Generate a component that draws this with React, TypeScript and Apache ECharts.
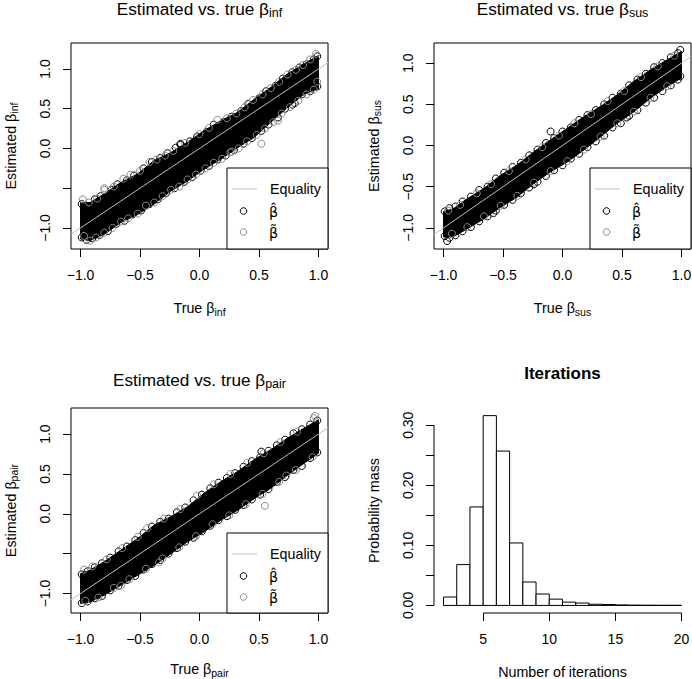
import React, { useEffect, useRef } from "react";
import * as echarts from "echarts";

const FONT = "'Liberation Sans', Arial, Helvetica, sans-serif";
const LINE_GRAY = "#bebebe";
const PT_GRAY = "#8a8a8a";

// ---------- data ----------
const bandX = [-1, -0.92, -0.8, -0.66, -0.52, -0.38, -0.24, -0.1, 0.04, 0.18, 0.32, 0.46, 0.6, 0.74, 0.88, 1.0];

// beta_inf panel: dense core of the point cloud (upper / lower envelope)
const infBandUpper = [-0.68, -0.68, -0.57, -0.425, -0.32, -0.15, -0.05, 0.08, 0.225, 0.35, 0.455, 0.62, 0.77, 0.94, 1.065, 1.17];
const infBandLower = [-1.14, -1.16, -1.08, -0.93, -0.83, -0.7, -0.535, -0.41, -0.26, -0.135, 0.01, 0.14, 0.33, 0.515, 0.685, 0.75];
const infHatPts = [
  [-0.99, -0.7], [-0.95, -0.72], [-0.88, -0.64], [-0.83, -0.6], [-0.74, -0.52], [-0.69, -0.45], [-0.61, -0.4], [-0.55, -0.34],
  [-0.47, -0.25], [-0.4, -0.17], [-0.33, -0.12], [-0.27, -0.06], [-0.2, 0.01], [-0.16, 0.045], [-0.08, 0.09], [-0.02, 0.15],
  [0.06, 0.21], [0.12, 0.3], [0.2, 0.33], [0.27, 0.4], [0.35, 0.47], [0.41, 0.56], [0.5, 0.63], [0.56, 0.72], [0.64, 0.79],
  [0.7, 0.88], [0.78, 0.96], [0.84, 1.02], [0.9, 1.06], [0.96, 1.12], [0.99, 1.16],
  [-0.99, -1.12], [-0.95, -1.15], [-0.9, -1.13], [-0.84, -1.09], [-0.77, -1.04], [-0.7, -0.95], [-0.63, -0.91], [-0.56, -0.83],
  [-0.49, -0.78], [-0.42, -0.7], [-0.35, -0.64], [-0.28, -0.56], [-0.21, -0.5], [-0.13, -0.42], [-0.06, -0.36], [0.01, -0.28],
  [0.08, -0.22], [0.15, -0.14], [0.22, -0.09], [0.29, -0.02], [0.37, 0.06], [0.44, 0.13], [0.52, 0.22], [0.58, 0.3],
  [0.66, 0.39], [0.72, 0.5], [0.8, 0.57], [0.86, 0.68], [0.93, 0.72], [0.99, 0.78],
  [0.78, 0.55], [-0.16, 0.06]
];
const infTildePts = [
  [-0.98, -0.64], [-0.93, -0.68], [-0.86, -0.63], [-0.8, -0.52], [-0.72, -0.48], [-0.64, -0.38], [-0.58, -0.33], [-0.5, -0.28],
  [-0.42, -0.17], [-0.36, -0.14], [-0.29, -0.09], [-0.22, -0.03], [-0.12, 0.07], [0.0, 0.18], [0.08, 0.26], [0.15, 0.36],
  [0.23, 0.38], [0.31, 0.44], [0.38, 0.52], [0.45, 0.61], [0.53, 0.68], [0.6, 0.76], [0.67, 0.84], [0.74, 0.93], [0.81, 0.99],
  [0.87, 1.05], [0.93, 1.12], [0.98, 1.19],
  [-0.97, -1.1], [-0.92, -1.16], [-0.87, -1.12], [-0.8, -1.06], [-0.73, -1.0], [-0.66, -0.92], [-0.6, -0.88], [-0.52, -0.82],
  [-0.45, -0.72], [-0.38, -0.68], [-0.31, -0.6], [-0.24, -0.52], [-0.17, -0.48], [-0.1, -0.39], [-0.03, -0.33], [0.05, -0.25],
  [0.12, -0.18], [0.19, -0.13], [0.26, -0.05], [0.33, 0.0], [0.4, 0.09], [0.48, 0.17], [0.55, 0.25], [0.62, 0.33],
  [0.69, 0.44], [0.76, 0.52], [0.83, 0.6], [0.9, 0.68], [0.96, 0.74], [0.99, 0.84],
  [0.66, 0.35], [0.52, 0.06], [0.27, -0.04], [-0.8, -0.5]
];

// beta_sus panel
const susBandUpper = [-0.8, -0.77, -0.645, -0.52, -0.36, -0.235, -0.075, 0.07, 0.21, 0.35, 0.475, 0.615, 0.78, 0.92, 1.04, 1.14];
const susBandLower = [-1.11, -1.11, -1.01, -0.89, -0.75, -0.625, -0.46, -0.32, -0.2, -0.055, 0.105, 0.27, 0.41, 0.575, 0.715, 0.82];
const susHatPts = [
  [-0.99, -0.8], [-0.95, -0.76], [-0.9, -0.74], [-0.84, -0.68], [-0.77, -0.62], [-0.7, -0.54], [-0.63, -0.5], [-0.56, -0.4],
  [-0.49, -0.33], [-0.42, -0.26], [-0.35, -0.21], [-0.28, -0.12], [-0.21, -0.05], [-0.14, 0.03], [-0.07, 0.09], [0.0, 0.17],
  [0.07, 0.22], [0.14, 0.31], [0.21, 0.37], [0.28, 0.43], [0.35, 0.5], [0.42, 0.58], [0.49, 0.63], [0.56, 0.73], [0.63, 0.8],
  [0.7, 0.87], [0.77, 0.95], [0.84, 1.0], [0.91, 1.07], [0.97, 1.12], [0.99, 1.16],
  [-0.99, -1.1], [-0.95, -1.12], [-0.9, -1.09], [-0.84, -1.04], [-0.77, -0.99], [-0.7, -0.92], [-0.63, -0.86], [-0.56, -0.79],
  [-0.49, -0.72], [-0.42, -0.66], [-0.35, -0.58], [-0.28, -0.51], [-0.21, -0.44], [-0.14, -0.37], [-0.07, -0.3], [0.0, -0.24],
  [0.07, -0.16], [0.14, -0.1], [0.21, -0.02], [0.28, 0.05], [0.35, 0.12], [0.42, 0.22], [0.49, 0.27], [0.56, 0.36],
  [0.63, 0.43], [0.7, 0.52], [0.77, 0.58], [0.84, 0.66], [0.91, 0.73], [0.97, 0.8], [0.99, 0.84],
  [-0.58, -0.82], [-0.24, -0.47], [-0.1, 0.17], [0.54, 0.34], [-0.97, -1.16]
];
const susTildePts = [
  [-0.96, -0.79], [-0.86, -0.72], [-0.72, -0.58], [-0.6, -0.47], [-0.45, -0.31], [-0.31, -0.17], [-0.17, -0.02], [-0.03, 0.12],
  [0.1, 0.27], [0.24, 0.38], [0.38, 0.54], [0.52, 0.66], [0.66, 0.83], [0.8, 0.96], [0.94, 1.09],
  [-0.93, -1.07], [-0.8, -0.99], [-0.66, -0.86], [-0.52, -0.73], [-0.38, -0.61], [-0.24, -0.45], [-0.1, -0.31], [0.04, -0.19],
  [0.18, -0.05], [0.32, 0.11], [0.46, 0.27], [0.6, 0.41], [0.74, 0.58], [0.88, 0.72]
];

// beta_pair panel
const pairBandUpper = [-0.75, -0.705, -0.6, -0.455, -0.31, -0.14, -0.035, 0.09, 0.26, 0.405, 0.53, 0.68, 0.805, 0.95, 1.075, 1.18];
const pairBandLower = [-1.125, -1.105, -1.02, -0.895, -0.77, -0.645, -0.5, -0.35, -0.225, -0.08, 0.045, 0.19, 0.32, 0.485, 0.635, 0.76];
const pairHatPts = [
  [-0.99, -0.76], [-0.94, -0.72], [-0.88, -0.67], [-0.82, -0.62], [-0.75, -0.55], [-0.68, -0.47], [-0.61, -0.41], [-0.54, -0.33],
  [-0.47, -0.24], [-0.4, -0.16], [-0.33, -0.1], [-0.26, -0.06], [-0.19, 0.02], [-0.12, 0.08], [-0.05, 0.17], [0.02, 0.24],
  [0.09, 0.32], [0.16, 0.39], [0.23, 0.45], [0.3, 0.51], [0.37, 0.59], [0.44, 0.66], [0.51, 0.71], [0.58, 0.79], [0.65, 0.86],
  [0.72, 0.93], [0.79, 1.01], [0.86, 1.06], [0.93, 1.12], [0.99, 1.17],
  [-0.99, -1.12], [-0.94, -1.1], [-0.88, -1.06], [-0.82, -1.03], [-0.75, -0.96], [-0.68, -0.9], [-0.61, -0.83], [-0.54, -0.78],
  [-0.47, -0.7], [-0.4, -0.63], [-0.33, -0.58], [-0.26, -0.5], [-0.19, -0.43], [-0.12, -0.35], [-0.05, -0.3], [0.02, -0.22],
  [0.09, -0.15], [0.16, -0.08], [0.23, -0.03], [0.3, 0.05], [0.37, 0.11], [0.44, 0.18], [0.51, 0.24], [0.58, 0.31],
  [0.65, 0.4], [0.72, 0.46], [0.79, 0.55], [0.86, 0.6], [0.93, 0.7], [0.99, 0.77],
  [0.52, 0.78]
];
const pairTildePts = [
  [-0.97, -0.7], [-0.9, -0.66], [-0.78, -0.57], [-0.65, -0.43], [-0.52, -0.29], [-0.44, -0.18], [-0.3, -0.06], [-0.16, 0.06],
  [-0.02, 0.23], [0.12, 0.37], [0.26, 0.5], [0.4, 0.64], [0.54, 0.76], [0.68, 0.9], [0.82, 1.03], [0.96, 1.2],
  [-0.96, -1.09], [-0.85, -1.05], [-0.72, -0.93], [-0.59, -0.82], [-0.45, -0.69], [-0.31, -0.56], [-0.17, -0.42], [-0.03, -0.28],
  [0.11, -0.13], [0.25, -0.02], [0.39, 0.12], [0.53, 0.25], [0.67, 0.4], [0.81, 0.55], [0.95, 0.71],
  [-0.66, -0.9], [-0.34, -0.61], [0.55, 0.1], [0.73, 0.48], [0.97, 1.23]
];

// equality line ends (y = x)
const equalityEnds = [-1.08, 1.08];

// axis ticks
const betaTicks = [-1, -0.5, 0, 0.5, 1];
const betaLabelsInf = [-1, 0, 0.5, 1];
const betaLabelsSus = [-1, -0.5, 0, 0.5, 1];
const betaLabelsPair = [-1, 0, 0.5, 1];

// iterations histogram
const histBreaks = [2, 3, 4, 5, 6, 7, 8, 9, 10, 11, 12, 13, 14, 15, 16, 17, 18, 19, 20];
const histMass = [0.014, 0.068, 0.164, 0.316, 0.257, 0.104, 0.039, 0.019, 0.0105, 0.0055, 0.004, 0.002, 0.0015, 0.0008, 0.0005, 0.0003, 0.0002, 0.0002];
const histXTicks = [5, 10, 15, 20];
const histYTicks = [0, 0.05, 0.1, 0.15, 0.2, 0.25, 0.3];
const histYLabels = [0, 0.1, 0.2, 0.3];
const histXSpan = [5, 20];
const histYSpan = [0, 0.3];

// ---------- layout ----------
const grids = [
  { left: 71, top: 43, width: 257, height: 206 },
  { left: 434, top: 43, width: 257, height: 206 },
  { left: 71, top: 408, width: 257, height: 205 },
  { left: 434, top: 408, width: 257, height: 205 },
];
const yRanges = [
  [-1.265, 1.327],
  [-1.256, 1.244],
  [-1.244, 1.327],
  [-0.0126, 0.3287],
];
const xRangeBeta = [-1.08, 1.08];
const xRangeHist = [1.28, 20.72];

const fmt1 = (v: number) => (v < 0 ? "\u2212" + Math.abs(v).toFixed(1) : v.toFixed(1));
const fmt2 = (v: number) => v.toFixed(2);

const TICK_FS = 14;
const LAB_FS = 14.3;

function axisLabelStyle(values: number[], fmt: (v: number) => string, rotate = 0) {
  return {
    show: true,
    customValues: values,
    formatter: (v: number) => fmt(v),
    margin: 19,
    rotate,
    fontSize: TICK_FS,
    fontFamily: FONT,
    color: "#000",
  };
}
function axisTickStyle(values: number[]) {
  return { show: true, customValues: values, length: 8, lineStyle: { color: "#000", width: 1 } };
}

function subText(main: string, sub: string, fs: number, sfs: number, bold = false) {
  const L = sub ? fs + 4 : fs;
  return {
    text: sub ? `{m|${main}}{s|${sub}}` : `{m|${main}}`,
    rich: {
      m: { fontSize: fs, lineHeight: L, fontFamily: FONT, fill: "#000", fontWeight: bold ? "bold" : "normal" },
      s: { fontSize: sfs, lineHeight: L - 9, verticalAlign: "bottom", fontFamily: FONT, fill: "#000" },
    },
    align: "center",
    verticalAlign: "middle",
  };
}

function legendElements(lx: number, ly: number, rx: number, by: number) {
  const t = (x: number, y: number, s: string, family = FONT) => ({
    type: "text",
    x,
    y,
    z: 101,
    style: { text: s, fontSize: LAB_FS, fontFamily: family, fill: "#000", align: "left", verticalAlign: "middle" },
  });
  return [
    {
      type: "rect",
      z: 100,
      shape: { x: lx, y: ly, width: rx - lx, height: by - ly },
      style: { fill: "#fff", stroke: "#000", lineWidth: 1 },
    },
    { type: "line", z: 101, shape: { x1: lx + 5, y1: ly + 21, x2: lx + 30, y2: ly + 21 }, style: { stroke: LINE_GRAY, lineWidth: 1 } },
    t(lx + 43, ly + 21, "Equality"),
    { type: "circle", z: 101, shape: { cx: lx + 16.5, cy: ly + 43, r: 3.3 }, style: { fill: "none", stroke: "#000", lineWidth: 1 } },
    t(lx + 42, ly + 44, "\u03B2\u0302", "'DejaVu Sans', " + FONT),
    { type: "circle", z: 101, shape: { cx: lx + 16.5, cy: ly + 64, r: 3.3 }, style: { fill: "none", stroke: PT_GRAY, lineWidth: 1 } },
    t(lx + 42, ly + 65, "\u03B2\u0303", "'DejaVu Sans', " + FONT),
  ];
}

function buildOption() {
  const betaPanels = [
    { upper: infBandUpper, lower: infBandLower, hat: infHatPts, tilde: infTildePts, labels: betaLabelsInf },
    { upper: susBandUpper, lower: susBandLower, hat: susHatPts, tilde: susTildePts, labels: betaLabelsSus },
    { upper: pairBandUpper, lower: pairBandLower, hat: pairHatPts, tilde: pairTildePts, labels: betaLabelsPair },
  ];
  const panelIdx = [0, 1, 2];

  const grid = grids.map((g, i) => ({
    ...g,
    show: i < 3,
    borderColor: "#000",
    borderWidth: 1,
    backgroundColor: "transparent",
    containLabel: false,
    outerBoundsMode: "none",
  }));

  const xAxis: any[] = [];
  const yAxis: any[] = [];
  const series: any[] = [];

  panelIdx.forEach((i) => {
    const p = betaPanels[i];
    xAxis.push({
      gridIndex: i,
      type: "value",
      position: "bottom",
      min: xRangeBeta[0],
      max: xRangeBeta[1],
      axisLine: { show: false, onZero: false },
      splitLine: { show: false },
      axisTick: axisTickStyle(betaTicks),
      axisLabel: axisLabelStyle(betaTicks, fmt1),
    });
    yAxis.push({
      gridIndex: i,
      type: "value",
      position: "left",
      min: yRanges[i][0],
      max: yRanges[i][1],
      axisLine: { show: false, onZero: false },
      splitLine: { show: false },
      axisTick: axisTickStyle(betaTicks),
      axisLabel: axisLabelStyle(p.labels, fmt1, 90),
    });
    series.push({
      type: "custom",
      xAxisIndex: i,
      yAxisIndex: i,
      silent: true,
      z: 1,
      data: [[0, 0]],
      renderItem: (_params: any, api: any) => {
        const pts: number[][] = [];
        for (let k = 0; k < bandX.length; k++) pts.push(api.coord([bandX[k], p.upper[k]]));
        for (let k = bandX.length - 1; k >= 0; k--) pts.push(api.coord([bandX[k], p.lower[k]]));
        return { type: "polygon", shape: { points: pts }, style: { fill: "#000", stroke: "#000", lineWidth: 1 } };
      },
    });
    series.push({
      type: "scatter",
      xAxisIndex: i,
      yAxisIndex: i,
      silent: true,
      z: 2,
      symbol: "circle",
      symbolSize: 7,
      data: p.hat,
      itemStyle: { color: "rgba(0,0,0,0)", borderColor: "#000", borderWidth: 1, opacity: 1 },
    });
    series.push({
      type: "scatter",
      xAxisIndex: i,
      yAxisIndex: i,
      silent: true,
      z: 3,
      symbol: "circle",
      symbolSize: 7,
      data: p.tilde,
      itemStyle: { color: "rgba(0,0,0,0)", borderColor: PT_GRAY, borderWidth: 1, opacity: 1 },
    });
    series.push({
      type: "line",
      xAxisIndex: i,
      yAxisIndex: i,
      silent: true,
      z: 4,
      showSymbol: false,
      symbol: "none",
      data: [
        [equalityEnds[0], equalityEnds[0]],
        [equalityEnds[1], equalityEnds[1]],
      ],
      lineStyle: { color: LINE_GRAY, width: 1 },
    });
  });

  // histogram panel
  xAxis.push({
    gridIndex: 3,
    type: "value",
    position: "bottom",
    min: xRangeHist[0],
    max: xRangeHist[1],
    axisLine: { show: false, onZero: false },
    splitLine: { show: false },
    axisTick: axisTickStyle(histXTicks),
    axisLabel: axisLabelStyle(histXTicks, (v) => String(v)),
  });
  yAxis.push({
    gridIndex: 3,
    type: "value",
    position: "left",
    min: yRanges[3][0],
    max: yRanges[3][1],
    axisLine: { show: false, onZero: false },
    splitLine: { show: false },
    axisTick: axisTickStyle(histYTicks),
    axisLabel: axisLabelStyle(histYLabels, fmt2, 90),
  });
  series.push({
    type: "custom",
    xAxisIndex: 3,
    yAxisIndex: 3,
    silent: true,
    data: histMass.map((m, i) => [histBreaks[i], m, histBreaks[i + 1]]),
    renderItem: (_params: any, api: any) => {
      const a = api.coord([api.value(0), api.value(1)]);
      const b = api.coord([api.value(2), 0]);
      return {
        type: "rect",
        shape: { x: a[0], y: a[1], width: b[0] - a[0], height: b[1] - a[1] },
        style: { fill: "#fff", stroke: "#000", lineWidth: 1 },
      };
    },
  });
  series.push({
    type: "custom",
    xAxisIndex: 3,
    yAxisIndex: 3,
    silent: true,
    clip: false,
    data: [
      [histXSpan[0], yRanges[3][0], histXSpan[1], yRanges[3][0]],
      [xRangeHist[0], histYSpan[0], xRangeHist[0], histYSpan[1]],
    ],
    renderItem: (_params: any, api: any) => {
      const a = api.coord([api.value(0), api.value(1)]);
      const b = api.coord([api.value(2), api.value(3)]);
      return { type: "line", shape: { x1: a[0], y1: a[1], x2: b[0], y2: b[1] }, style: { stroke: "#000", lineWidth: 1 } };
    },
  });

  const cx = (g: any) => g.left + g.width / 2;
  const cy = (g: any) => g.top + g.height / 2;

  const graphic: any[] = [
    // titles
    { type: "text", x: cx(grids[0]), y: 9, z: 50, style: subText("Estimated vs. true \u03B2", "inf", 17.2, 12.5) },
    { type: "text", x: cx(grids[1]), y: 9, z: 50, style: subText("Estimated vs. true \u03B2", "sus", 17.2, 12.5) },
    { type: "text", x: cx(grids[2]), y: 380, z: 50, style: subText("Estimated vs. true \u03B2", "pair", 17.2, 12.5) },
    { type: "text", x: cx(grids[3]), y: 373, z: 50, style: subText("Iterations", "", 17, 12, true) },
    // x labels
    { type: "text", x: cx(grids[0]), y: 308, z: 50, style: subText("True \u03B2", "inf", LAB_FS, 10.5) },
    { type: "text", x: cx(grids[1]), y: 308, z: 50, style: subText("True \u03B2", "sus", LAB_FS, 10.5) },
    { type: "text", x: cx(grids[2]), y: 669, z: 50, style: subText("True \u03B2", "pair", LAB_FS, 10.5) },
    { type: "text", x: cx(grids[3]), y: 671.5, z: 50, style: subText("Number of iterations", "", LAB_FS, 10.5) },
    // y labels
    { type: "text", x: 10.5, y: cy(grids[0]), rotation: Math.PI / 2, z: 50, style: subText("Estimated \u03B2", "inf", LAB_FS, 10.5) },
    { type: "text", x: 373.5, y: cy(grids[1]), rotation: Math.PI / 2, z: 50, style: subText("Estimated \u03B2", "sus", LAB_FS, 10.5) },
    { type: "text", x: 10.5, y: cy(grids[2]), rotation: Math.PI / 2, z: 50, style: subText("Estimated \u03B2", "pair", LAB_FS, 10.5) },
    { type: "text", x: 373.5, y: cy(grids[3]), rotation: Math.PI / 2, z: 50, style: subText("Probability mass", "", LAB_FS, 10.5) },
    // legends
    ...legendElements(227, 168, 328, 249),
    ...legendElements(590, 168, 691, 249),
    ...legendElements(227, 533, 328, 613),
  ];

  return {
    animation: false,
    backgroundColor: "#fff",
    grid,
    xAxis,
    yAxis,
    series,
    graphic,
  };
}

export default function App() {
  const ref = useRef<HTMLDivElement>(null);
  useEffect(() => {
    const chart = echarts.init(ref.current!, null, { renderer: "svg" });
    chart.setOption(buildOption() as any);
    return () => chart.dispose();
  }, []);
  return (
    <div
      ref={ref}
      style={{ position: "fixed", left: 0, top: 0, width: 692, height: 679, background: "#fff" }}
    />
  );
}
